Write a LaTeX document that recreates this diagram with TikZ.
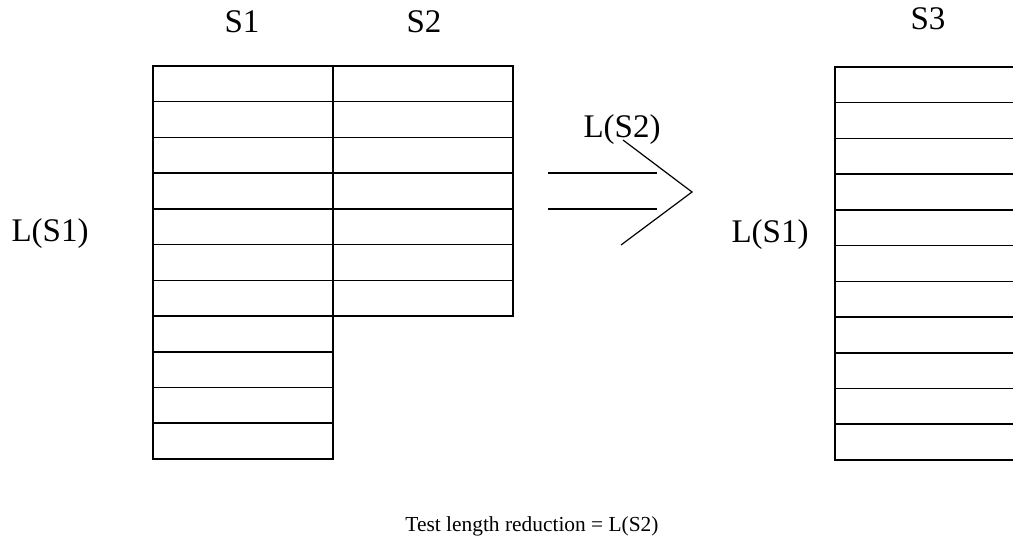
\documentclass[tikz,border=0pt]{standalone}
\usepackage{fontspec}
\setmainfont{Liberation Serif}
\usetikzlibrary{positioning}

\begin{document}
\begin{tikzpicture}[
  x=0.5pt, y=-0.5pt,
  cell/.style={draw=black, line width=0.75pt, minimum width=90pt, minimum height=17.86pt,
               inner sep=0pt, outer sep=0pt, anchor=north west},
  lbl/.style={font=\fontsize{16.5}{18}\selectfont, inner sep=0pt},
  note/.style={font=\fontsize{10.7}{12}\selectfont, inner sep=0pt, anchor=base},
  arr/.style={draw=black, line width=0.6pt},
]
  \useasboundingbox (0,0) rectangle (1013,540);
  \clip (0,0) rectangle (1013,540);

  % S1 column: 11 test rows
  \node[cell] (s1r1) at (153,66) {};
  \foreach \i [remember=\i as \j (initially 1)] in {2,...,11}
    \node[cell, below=0pt of s1r\j] (s1r\i) {};

  % S2 column: 7 test rows, next to S1
  \node[cell, right=0pt of s1r1] (s2r1) {};
  \foreach \i [remember=\i as \j (initially 1)] in {2,...,7}
    \node[cell, below=0pt of s2r\j] (s2r\i) {};

  % S3 column: 11 merged rows (runs off the right edge)
  \node[cell, minimum width=100pt] (s3r1) at (835,67) {};
  \foreach \i [remember=\i as \j (initially 1)] in {2,...,11}
    \node[cell, minimum width=100pt, below=0pt of s3r\j] (s3r\i) {};

  % Column and length labels
  \node[lbl] (s1) at (242,22) {S1};
  \node[lbl] (s2) at (424,22) {S2};
  \node[lbl] (s3) at (928,19) {S3};
  \node[lbl] (ls1) at (50,234) {L(S1)};
  \node[lbl] (ls3) at (770,235) {L(S1)};
  \node[lbl] (ls2) at (622,130) {L(S2)};

  % Double arrow
  \coordinate (ua) at (548,173);
  \coordinate (ub) at (657,173);
  \coordinate (la) at (548,209);
  \coordinate (lb) at (657,209);
  \coordinate (ctop) at (623,140);
  \coordinate (ctip) at (692,192);
  \coordinate (cbot) at (621,245);
  \draw[arr] (ua) -- (ub);
  \draw[arr] (la) -- (lb);
  \draw[arr] (ctop) -- (ctip) -- (cbot);

  % Caption
  \node[note] (red) at (532,531) {Test length reduction = L(S2)};
\end{tikzpicture}
\end{document}
